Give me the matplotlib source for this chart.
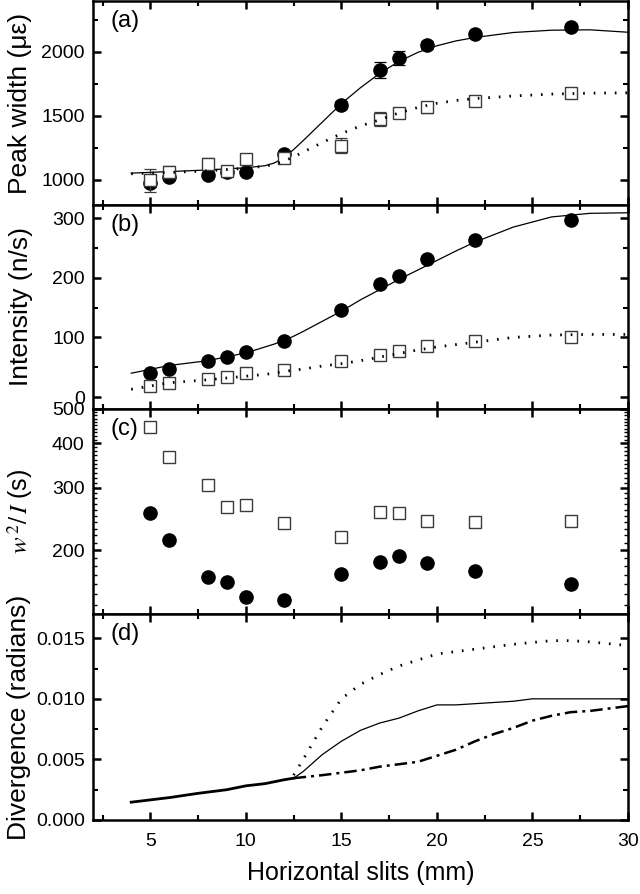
import matplotlib
matplotlib.use("Agg")
import matplotlib.pyplot as plt
from matplotlib.ticker import FixedLocator, NullFormatter, FixedFormatter

plt.rcParams['font.family'] = ['Liberation Sans', 'DejaVu Sans']

# ---------------- data ----------------
slits = [5, 6, 8, 9, 10, 12, 15, 17, 18, 19.5, 22, 27]

# (a) peak width (microstrain)
width_filled = [970, 1020, 1035, 1055, 1055, 1200, 1585, 1860, 1955, 2055, 2140, 2197]
width_filled_err = [30, 20, 15, 20, 20, 25, 30, 60, 55, 30, 25, 20]
width_open = [995, 1060, 1125, 1065, 1160, 1170, 1265, 1472, 1520, 1565, 1612, 1682]
width_open_err = [90, 45, 45, 30, 35, 40, 60, 55, 40, 45, 35, 25]

fit_x = [4, 6, 8, 10, 11, 11.5, 12, 12.5, 13, 14, 15, 16, 17, 18, 19, 20, 21, 22, 24, 26, 28, 30]
width_fit_solid = [1050, 1062, 1075, 1092, 1108, 1130, 1172, 1235, 1305, 1450, 1595, 1720,
                   1832, 1925, 1997, 2049, 2087, 2114, 2153, 2171, 2174, 2155]
width_fit_dot = [1045, 1055, 1068, 1088, 1105, 1120, 1145, 1178, 1215, 1290, 1360, 1420,
                 1468, 1522, 1565, 1598, 1620, 1635, 1655, 1670, 1677, 1680]

# (b) intensity (n/s)
int_filled = [40, 47, 61, 68, 75, 94, 146, 189, 203, 231, 263, 297]
int_open = [19, 24, 31, 34, 40, 46, 60, 71, 77, 86, 94, 101]
int_fit_solid = [40, 53, 61, 74, 84, 89, 95, 102, 110, 127, 144, 163, 180, 197, 213, 229,
                 245, 260, 285, 302, 308, 309]
int_fit_dot = [13, 24, 29, 35, 38, 40, 43, 45, 47, 52, 56, 61, 67, 73, 79, 84, 88, 92, 100,
               104, 105, 105]

# (c) w^2 / I (s)
ratio_open = [445, 367, 306, 264, 268, 239, 217, 256, 255, 241, 240, 242]
ratio_filled = [255, 214, 168, 162, 147, 145, 171, 185, 193, 184, 175, 160]

# (d) divergence (radians)
div_common_x = [4, 5, 6, 7.5, 9, 10, 11, 12, 12.5]
div_common = [0.00147, 0.00166, 0.00185, 0.0022, 0.0025, 0.00282, 0.0030, 0.00332, 0.00345]
div_dot_x = [12.5, 13, 14, 15, 16, 17, 18, 20, 22, 24, 26, 27, 28, 30]
div_dot = [0.0037, 0.0050, 0.0077, 0.0100, 0.0112, 0.0120, 0.0127, 0.0137, 0.0141, 0.0145,
           0.0148, 0.0148, 0.0147, 0.0144]
div_solid_x = [12.5, 13, 14, 15, 16, 17, 18, 19, 20, 21, 22, 24, 25, 26, 28, 30]
div_solid = [0.00345, 0.0040, 0.0054, 0.0065, 0.0074, 0.0080, 0.0084, 0.0090, 0.0095, 0.0095,
             0.0096, 0.0098, 0.0100, 0.0100, 0.0100, 0.0100]
div_dashdot_x = [12.5, 14, 15, 16, 17, 18, 19, 20, 21, 22, 23, 24, 25, 26, 27, 28, 29, 30]
div_dashdot = [0.00345, 0.0037, 0.0039, 0.0041, 0.0044, 0.0046, 0.0048, 0.0053, 0.0058,
               0.0065, 0.0071, 0.0076, 0.0082, 0.0086, 0.0089, 0.0090, 0.0092, 0.0094]

x_major = [5, 10, 15, 20, 25, 30]
x_minor = [2.5, 7.5, 12.5, 17.5, 22.5, 27.5]

# ---------------- figure ----------------
W, H = 640, 894
fig = plt.figure(figsize=(W / 100, H / 100), dpi=100)

left, right = 93, 628
panels_px = [(1, 205), (205, 409), (409, 614), (614, 820)]
axes = []
for top, bot in panels_px:
    ax = fig.add_axes([left / W, 1 - bot / H, (right - left) / W, (bot - top) / H])
    axes.append(ax)

TICK_FS = 14
YLABEL_FS = 19
PANEL_FS = 17

def style(ax, show_x=False):
    for s in ax.spines.values():
        s.set_linewidth(1.8)
    ax.set_xlim(2, 30)
    ax.xaxis.set_major_locator(FixedLocator(x_major))
    ax.xaxis.set_minor_locator(FixedLocator(x_minor))
    ax.tick_params(which='both', direction='in', top=True, right=True)
    ax.tick_params(which='major', length=6, width=1.8, labelsize=TICK_FS, pad=6)
    ax.tick_params(which='minor', length=3.5, width=1.5)
    ax.tick_params(axis='x', which='major', pad=9)
    if not show_x:
        ax.tick_params(axis='x', labelbottom=False)

sq_edge = '#3a3a3a'
circ_kw = dict(marker='o', ms=9.5, mfc='black', mec='black', ls='none', zorder=3)
sq_kw = dict(marker='s', ms=8, mfc='white', mec=sq_edge, mew=1.0, ls='none', zorder=4)
dot_kw = dict(color='black', lw=2.0, ls=(0, (0.6, 3.2)), dash_capstyle='butt', zorder=5)

# (a)
ax = axes[0]
ax.plot(fit_x, width_fit_solid, color='black', lw=0.9, zorder=2)
ax.errorbar(slits, width_filled, yerr=width_filled_err, fmt='none', ecolor='black',
            elinewidth=0.9, capsize=4, capthick=0.9, zorder=2)
ax.plot(slits, width_filled, **circ_kw)
ax.errorbar(slits, width_open, yerr=width_open_err, fmt='none', ecolor=sq_edge,
            elinewidth=0.9, capsize=4, capthick=0.9, zorder=3)
ax.plot(slits, width_open, **sq_kw)
ax.plot(fit_x, width_fit_dot, **dot_kw)
ax.set_ylim(800, 2400)
ax.yaxis.set_major_locator(FixedLocator([1000, 1500, 2000]))
ax.yaxis.set_minor_locator(FixedLocator([1250, 1750, 2250]))
ax.set_ylabel('Peak width (με)', fontsize=YLABEL_FS)
style(ax)
ax.text(0.032, 0.955, '(a)', transform=ax.transAxes, fontsize=PANEL_FS, va='top', ha='left')

# (b)
ax = axes[1]
ax.plot(fit_x, int_fit_solid, color='black', lw=0.9, zorder=2)
ax.plot(slits, int_filled, **circ_kw)
ax.plot(slits, int_open, **sq_kw)
ax.plot(fit_x, int_fit_dot, **dot_kw)
ax.set_ylim(-20, 322)
ax.yaxis.set_major_locator(FixedLocator([0, 100, 200, 300]))
ax.yaxis.set_minor_locator(FixedLocator([50, 150, 250]))
ax.set_ylabel('Intensity (n/s)', fontsize=YLABEL_FS)
style(ax)
ax.text(0.032, 0.955, '(b)', transform=ax.transAxes, fontsize=PANEL_FS, va='top', ha='left')

# (c)
ax = axes[2]
ax.set_yscale('log')
ax.plot(slits, ratio_open, **sq_kw)
ax.plot(slits, ratio_filled, **circ_kw)
ax.set_ylim(132, 500)
ax.yaxis.set_major_locator(FixedLocator([200, 300, 400, 500]))
ax.yaxis.set_major_formatter(FixedFormatter(['200', '300', '400', '500']))
ax.yaxis.set_minor_locator(FixedLocator([v for v in range(140, 500, 10) if v % 100 != 0]))
ax.yaxis.set_minor_formatter(NullFormatter())
ax.set_ylabel(r'$w^{\,2}/\,I$ (s)', fontsize=18, math_fontfamily='stix')
style(ax)
ax.tick_params(axis='y', which='minor', length=3, width=1.0)
ax.text(0.032, 0.955, '(c)', transform=ax.transAxes, fontsize=PANEL_FS, va='top', ha='left')

# (d)
ax = axes[3]
ax.plot(div_common_x, div_common, color='black', lw=2.0, zorder=3)
ax.plot(div_dot_x, div_dot, **dot_kw)
ax.plot(div_solid_x, div_solid, color='black', lw=0.9, zorder=2)
ax.plot(div_dashdot_x, div_dashdot, color='black', lw=1.8, ls=(0, (5, 2, 1.2, 2)), zorder=3)
ax.set_ylim(0, 0.017)
ax.yaxis.set_major_locator(FixedLocator([0.0, 0.005, 0.010, 0.015]))
ax.yaxis.set_major_formatter(FixedFormatter(['0.000', '0.005', '0.010', '0.015']))
ax.yaxis.set_minor_locator(FixedLocator([0.0025, 0.0075, 0.0125]))
ax.set_ylabel('Divergence (radians)', fontsize=YLABEL_FS)
ax.set_xlabel('Horizontal slits (mm)', fontsize=18, labelpad=8)
style(ax, show_x=True)
ax.text(0.032, 0.955, '(d)', transform=ax.transAxes, fontsize=PANEL_FS, va='top', ha='left')

label_x = [-0.114, -0.112, -0.108, -0.116]
for ax, lx in zip(axes, label_x):
    ax.yaxis.set_label_coords(lx, 0.5)

fig.savefig('out.png', dpi=100)
